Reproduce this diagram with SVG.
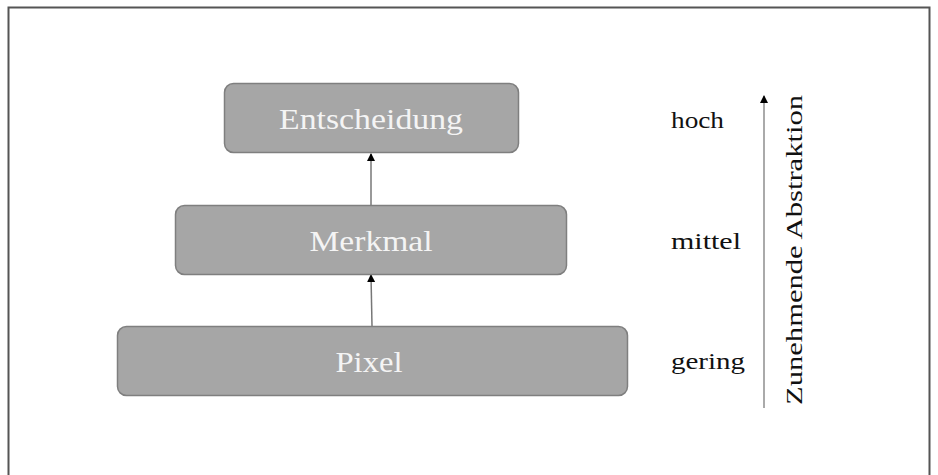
<svg xmlns="http://www.w3.org/2000/svg" width="938" height="475" viewBox="0 0 938 475">
<style>
.box{fill:#a6a6a6;stroke:#7f7f7f;stroke-width:1.5}
.bt{font-family:"Liberation Serif",serif;font-size:29px;fill:#f4f4f4;text-anchor:middle}
.lbl{font-family:"Liberation Serif",serif;font-size:24px;fill:#111}
.con{stroke:#777;stroke-width:1.5;fill:none}
</style>
<defs>
<marker id="ah" markerWidth="8" markerHeight="8" refX="7" refY="4" orient="auto" markerUnits="userSpaceOnUse">
<path d="M0,0 L8,4 L0,8 z" fill="#000"/>
</marker>
</defs>
<rect x="0" y="0" width="938" height="475" fill="#fff"/>
<path d="M8.5,480 V7.5 H929.5 V480" fill="none" stroke="#555" stroke-width="2"/>
<g id="connectors">
<line class="con" x1="371" y1="205" x2="371" y2="154" marker-end="url(#ah)"/>
<line class="con" x1="372" y1="326" x2="371" y2="275" marker-end="url(#ah)"/>
<line x1="764" y1="408" x2="764" y2="96" stroke="#aaa" stroke-width="2" marker-end="url(#ah)"/>
</g>
<g id="entscheidung">
<rect class="box" x="224.5" y="83.5" width="294" height="69" rx="9"/>
<text class="bt" x="371" y="129" textLength="184" lengthAdjust="spacingAndGlyphs">Entscheidung</text>
</g>
<g id="merkmal">
<rect class="box" x="175.5" y="205.5" width="391" height="69" rx="9"/>
<text class="bt" x="371" y="251" textLength="123" lengthAdjust="spacingAndGlyphs">Merkmal</text>
</g>
<g id="pixel">
<rect class="box" x="117.5" y="326.5" width="510" height="69" rx="9"/>
<text class="bt" x="369" y="372" textLength="67" lengthAdjust="spacingAndGlyphs">Pixel</text>
</g>
<g id="labels">
<text class="lbl" x="671" y="128" textLength="53" lengthAdjust="spacingAndGlyphs">hoch</text>
<text class="lbl" x="671" y="249" textLength="70" lengthAdjust="spacingAndGlyphs">mittel</text>
<text class="lbl" x="671" y="369" textLength="74" lengthAdjust="spacingAndGlyphs">gering</text>
<text class="lbl" transform="translate(802,250) rotate(-90)" text-anchor="middle" textLength="310" lengthAdjust="spacingAndGlyphs">Zunehmende Abstraktion</text>
</g>
</svg>
